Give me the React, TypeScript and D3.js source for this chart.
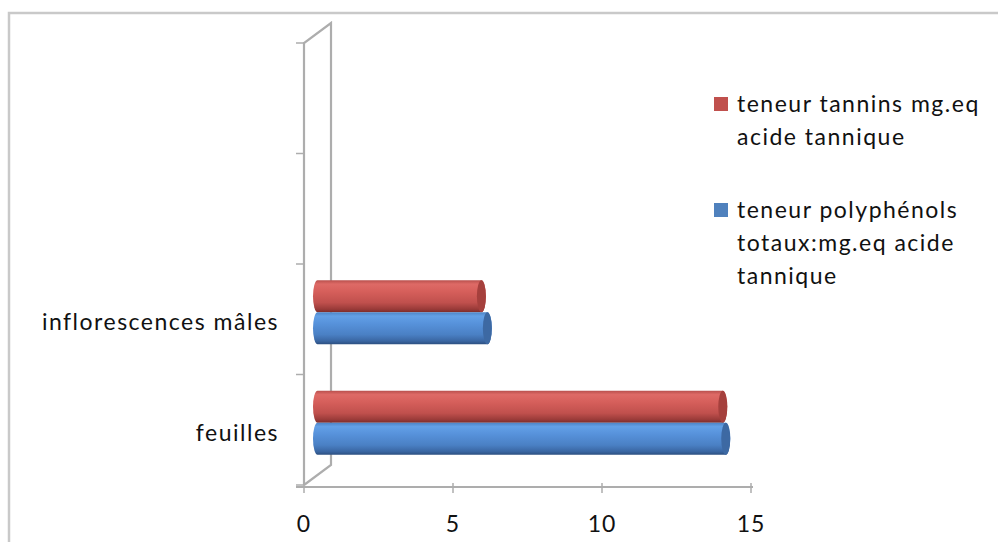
// @ts-nocheck
import * as d3 from 'd3';
import React, { useEffect, useRef } from 'react';

// category axis has 4 slots, only the two lowest carry data
const categories = ['feuilles', 'inflorescences mâles', '', ''];
const tannins = [13.6, 5.5];
const polyphenols = [13.7, 5.7];
const xTicks = [0, 5, 10, 15];
const legendLines = [
  ['teneur tannins mg.eq', 'acide tannique'],
  ['teneur polyphénols', 'totaux:mg.eq acide', 'tannique'],
];

const W = 998;
const H = 542;
const FONT = "Lato, 'Open Sans', 'DejaVu Sans', sans-serif";
const SPACING = '1.5px';

export default function App() {
  const svgRef = useRef<SVGSVGElement>(null);

  useEffect(() => {
    if (!svgRef.current) return;
    const svg = d3.select(svgRef.current);
    svg.selectAll('*').remove();

    const wallColor = '#adadad';
    const depth = { dx: 27, dy: -20 };
    const barShift = { dx: 13.5, dy: -7 };

    const x = d3.scaleLinear().domain([0, 15]).range([304, 751]);
    const y = d3
      .scaleBand<number>()
      .domain(d3.range(categories.length))
      .range([485, 43]);

    // frame (cropped at right and bottom)
    svg
      .append('path')
      .attr('d', `M9,${H + 10} L9,13 L${W + 10},13`)
      .attr('fill', 'none')
      .attr('stroke', '#c9c9c9')
      .attr('stroke-width', 2.5);

    // gradients
    const defs = svg.append('defs');
    const grads = [
      {
        id: 'gRed',
        stops: [
          [0, '#b9504d'],
          [0.12, '#de6a66'],
          [0.35, '#d65f5b'],
          [0.7, '#c0504d'],
          [0.9, '#9a3b39'],
          [1, '#7c2c2a'],
        ],
      },
      {
        id: 'gBlue',
        stops: [
          [0, '#4d84c6'],
          [0.12, '#63a0e6'],
          [0.35, '#5792db'],
          [0.7, '#4a80c4'],
          [0.9, '#3a66a2'],
          [1, '#2c4f80'],
        ],
      },
    ];
    grads.forEach(gd => {
      const lg = defs
        .append('linearGradient')
        .attr('id', gd.id)
        .attr('x1', 0)
        .attr('y1', 0)
        .attr('x2', 0)
        .attr('y2', 1);
      gd.stops.forEach(s => lg.append('stop').attr('offset', s[0]).attr('stop-color', s[1]));
    });

    // 3D wall of the category axis
    const x0 = x(0);
    const yTop = 43;
    const yBot = 485;
    svg
      .append('path')
      .attr(
        'd',
        `M${x0},${yBot} L${x0},${yTop} L${x0 + depth.dx},${yTop + depth.dy} L${x0 + depth.dx},${yBot + depth.dy} L${x0},${yBot}`
      )
      .attr('fill', 'none')
      .attr('stroke', wallColor)
      .attr('stroke-width', 2.2);

    // category ticks
    const tickYs = y.domain().map(d => y(d) + y.bandwidth()).concat([y(categories.length - 1)]);
    svg
      .selectAll('.ytick')
      .data(tickYs)
      .enter()
      .append('line')
      .attr('x1', x0 - 8)
      .attr('x2', x0)
      .attr('y1', d => d)
      .attr('y2', d => d)
      .attr('stroke', wallColor)
      .attr('stroke-width', 1.5);

    // value axis
    svg
      .append('line')
      .attr('x1', x0 - 8)
      .attr('x2', x(15) + 2)
      .attr('y1', 487)
      .attr('y2', 487)
      .attr('stroke', wallColor)
      .attr('stroke-width', 2.2);
    svg
      .selectAll('.xtick')
      .data(xTicks)
      .enter()
      .append('line')
      .attr('x1', d => x(d))
      .attr('x2', d => x(d))
      .attr('y1', 483)
      .attr('y2', 493)
      .attr('stroke', wallColor)
      .attr('stroke-width', 1.5);
    svg
      .selectAll('.xlabel')
      .data(xTicks)
      .enter()
      .append('text')
      .attr('x', d => x(d))
      .attr('y', 532)
      .attr('text-anchor', 'middle')
      .style('font-family', FONT)
      .style('font-size', '23px')
      .style('letter-spacing', '1px')
      .style('fill', '#111')
      .text(d => d);

    // category labels
    svg
      .selectAll('.ylabel')
      .data(categories)
      .enter()
      .append('text')
      .attr('x', 279)
      .attr('y', (d, i) => y(i) + y.bandwidth() / 2 + 11)
      .attr('text-anchor', 'end')
      .style('font-family', FONT)
      .style('font-size', '23px')
      .style('letter-spacing', SPACING)
      .style('fill', '#111')
      .text(d => d);

    // cylinders
    const barH = 32;
    const rx = 4.5;
    const series = [
      { values: tannins, fill: 'url(#gRed)', cap: '#a5403d', offset: -barH },
      { values: polyphenols, fill: 'url(#gBlue)', cap: '#3d69a3', offset: 0 },
    ];
    series.forEach(s => {
      s.values.forEach((v, i) => {
        const cy = y(i) + y.bandwidth() / 2 + barShift.dy;
        const top = cy + s.offset;
        const bx0 = x(0) + barShift.dx;
        const bx1 = x(v) + barShift.dx;
        const ry = barH / 2;
        const g = svg.append('g');
        g.append('path')
          .attr(
            'd',
            `M${bx0},${top} L${bx1},${top} A${rx},${ry} 0 0 1 ${bx1},${top + barH} L${bx0},${top + barH} A${rx},${ry} 0 0 1 ${bx0},${top} Z`
          )
          .attr('fill', s.fill);
        g.append('ellipse')
          .attr('cx', bx1)
          .attr('cy', top + ry)
          .attr('rx', rx)
          .attr('ry', ry)
          .attr('fill', s.cap);
      });
    });

    // legend
    const legendColors = ['#c0504d', '#4f81bd'];
    const legendTops = [97, 203];
    legendLines.forEach((lines, k) => {
      svg
        .append('rect')
        .attr('x', 714)
        .attr('y', legendTops[k])
        .attr('width', 14)
        .attr('height', 14)
        .attr('fill', legendColors[k]);
      lines.forEach((ln, j) => {
        svg
          .append('text')
          .attr('x', 737)
          .attr('y', legendTops[k] + 15 + j * 33)
          .style('font-family', FONT)
          .style('font-size', '23px')
          .style('letter-spacing', SPACING)
          .style('fill', '#111')
          .text(ln);
      });
    });
  }, []);

  return (
    <svg
      ref={svgRef}
      width={W}
      height={H}
      style={{ position: 'absolute', left: 0, top: 0, background: '#fff' }}
    />
  );
}
